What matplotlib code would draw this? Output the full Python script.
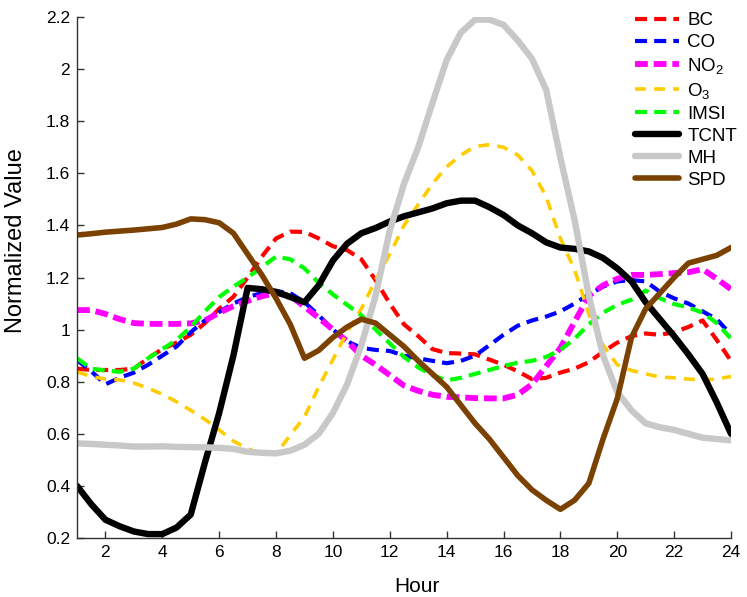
import numpy as np
import matplotlib
matplotlib.use("Agg")
import matplotlib.pyplot as plt

plt.rcParams['font.family'] = ['Liberation Sans', 'DejaVu Sans']
plt.rcParams['mathtext.fontset'] = 'custom'
plt.rcParams['mathtext.rm'] = 'Liberation Sans'
plt.rcParams['mathtext.it'] = 'Liberation Sans'

hours = [1, 1.5, 2, 2.5, 3, 3.5, 4, 4.5, 5, 5.5, 6, 6.5, 7, 7.5, 8, 8.5, 9, 9.5,
         10, 10.5, 11, 11.5, 12, 12.5, 13, 13.5, 14, 14.5, 15, 15.5, 16, 16.5,
         17, 17.5, 18, 18.5, 19, 19.5, 20, 20.5, 21, 21.5, 22, 22.5, 23, 23.5, 24]

bc = [0.85, 0.845, 0.845, 0.845, 0.85, 0.89, 0.925, 0.95, 0.98, 1.025, 1.08, 1.126,
      1.20, 1.28, 1.35, 1.376, 1.375, 1.35, 1.32, 1.305, 1.27, 1.19, 1.10, 1.02,
      0.975, 0.925, 0.91, 0.908, 0.905, 0.885, 0.865, 0.84, 0.81, 0.815, 0.835,
      0.85, 0.875, 0.915, 0.95, 0.975, 0.985, 0.98, 0.99, 1.01, 1.035, 0.96, 0.88]

co = [0.883, 0.84, 0.79, 0.815, 0.835, 0.865, 0.90, 0.935, 0.99, 1.035, 1.068, 1.10,
      1.125, 1.14, 1.148, 1.14, 1.105, 1.055, 1.0, 0.955, 0.93, 0.922, 0.918, 0.90,
      0.89, 0.88, 0.871, 0.88, 0.90, 0.94, 0.98, 1.015, 1.035, 1.05, 1.07, 1.10,
      1.135, 1.165, 1.185, 1.19, 1.185, 1.145, 1.12, 1.10, 1.07, 1.04, 0.98]

no2 = [1.075, 1.075, 1.06, 1.04, 1.025, 1.022, 1.022, 1.022, 1.024, 1.035, 1.065,
       1.09, 1.11, 1.128, 1.14, 1.13, 1.088, 1.045, 1.0, 0.955, 0.90, 0.865, 0.825,
       0.785, 0.765, 0.75, 0.742, 0.74, 0.737, 0.736, 0.736, 0.75, 0.79, 0.86, 0.93,
       1.03, 1.13, 1.17, 1.195, 1.21, 1.21, 1.213, 1.217, 1.22, 1.232, 1.195, 1.155]

o3 = [0.838, 0.82, 0.81, 0.807, 0.795, 0.775, 0.752, 0.723, 0.69, 0.655, 0.615,
      0.572, 0.543, 0.523, 0.522, 0.595, 0.665, 0.78, 0.885, 0.99, 1.08, 1.19, 1.29,
      1.40, 1.48, 1.56, 1.625, 1.67, 1.703, 1.71, 1.70, 1.67, 1.61, 1.51, 1.35, 1.23,
      1.06, 0.94, 0.865, 0.843, 0.83, 0.818, 0.815, 0.81, 0.807, 0.81, 0.82]

imsi = [0.89, 0.85, 0.843, 0.838, 0.85, 0.89, 0.925, 0.96, 1.01, 1.07, 1.125, 1.165,
        1.20, 1.24, 1.28, 1.27, 1.235, 1.18, 1.135, 1.095, 1.055, 1.0, 0.947, 0.895,
        0.855, 0.825, 0.805, 0.815, 0.83, 0.845, 0.86, 0.873, 0.88, 0.895, 0.922,
        0.965, 1.02, 1.065, 1.095, 1.115, 1.15, 1.12, 1.098, 1.085, 1.065, 1.025, 0.965]

tcnt = [0.40, 0.33, 0.27, 0.245, 0.225, 0.215, 0.215, 0.24, 0.29, 0.49, 0.68, 0.90,
        1.16, 1.155, 1.145, 1.125, 1.105, 1.17, 1.265, 1.33, 1.37, 1.39, 1.415, 1.435,
        1.45, 1.465, 1.485, 1.495, 1.495, 1.47, 1.44, 1.40, 1.37, 1.335, 1.315, 1.31,
        1.30, 1.275, 1.235, 1.185, 1.105, 1.04, 0.975, 0.905, 0.83, 0.72, 0.60]

mh = [0.563, 0.561, 0.558, 0.555, 0.551, 0.551, 0.552, 0.55, 0.549, 0.548, 0.546,
      0.542, 0.531, 0.527, 0.525, 0.535, 0.558, 0.60, 0.68, 0.79, 0.94, 1.13, 1.38,
      1.56, 1.70, 1.87, 2.035, 2.14, 2.19, 2.19, 2.17, 2.11, 2.04, 1.92, 1.66, 1.42,
      1.13, 0.90, 0.76, 0.69, 0.64, 0.625, 0.615, 0.60, 0.585, 0.58, 0.575]

spd = [1.363, 1.368, 1.374, 1.378, 1.382, 1.387, 1.392, 1.405, 1.425, 1.422, 1.41,
       1.37, 1.29, 1.21, 1.12, 1.02, 0.89, 0.92, 0.97, 1.01, 1.04, 1.025, 0.98, 0.935,
       0.88, 0.83, 0.78, 0.71, 0.64, 0.58, 0.51, 0.44, 0.385, 0.345, 0.31, 0.345, 0.41,
       0.58, 0.735, 0.97, 1.08, 1.14, 1.20, 1.255, 1.27, 1.285, 1.315]

series = [
    ("BC", bc, "#ff0000", (0, (2.9, 1.7)), 3.0),
    ("CO", co, "#0000ff", (0, (2.9, 1.7)), 3.0),
    ("NO$_2$", no2, "#ff00ff", (0, (2.2, 1.0)), 4.2),
    ("O$_3$", o3, "#ffcc00", (0, (3.0, 2.3)), 2.6),
    ("IMSI", imsi, "#00ff00", (0, (2.9, 1.7)), 3.0),
    ("TCNT", tcnt, "#000000", "-", 4.6),
    ("MH", mh, "#c8c8c8", "-", 4.6),
    ("SPD", spd, "#7a4100", "-", 4.0),
]

fig = plt.figure(figsize=(7.47, 5.97), dpi=100)
ax = fig.add_axes([77 / 747, 59 / 597, 654 / 747, 521 / 597])

for name, vals, col, ls, lw in series:
    ax.plot(hours, vals, color=col, linestyle=ls, linewidth=lw, label=name,
            solid_capstyle='round', solid_joinstyle='round', dash_capstyle='butt')

ax.set_xlim(1, 24)
ax.set_ylim(0.2, 2.2)
ax.set_xticks(np.arange(2, 25, 2))
yt = np.round(np.arange(0.2, 2.21, 0.2), 1)
ax.set_yticks(yt)
ax.set_yticklabels(["%g" % v for v in yt])
ax.tick_params(direction='in', length=5, width=1, labelsize=12.5, colors='#333333',
               labelcolor='black', pad=5)
for s in ['top', 'right']:
    ax.spines[s].set_visible(False)
for s in ['left', 'bottom']:
    ax.spines[s].set_color('#333333')
    ax.spines[s].set_linewidth(1)

ax.set_xlabel("Hour", fontsize=15)
ax.xaxis.set_label_coords((417 - 77) / 654, (538 - 577) / 521)
ax.set_ylabel("Normalized Value", fontsize=17)
ax.yaxis.set_label_coords((27 - 77) / 654, (538 - 241) / 521)

leg = ax.legend(loc='upper left', bbox_to_anchor=(635 / 747, 585 / 597),
                bbox_transform=fig.transFigure, frameon=False, fontsize=13.5,
                handlelength=2.35, handletextpad=0.43, labelspacing=0.26,
                borderaxespad=0, borderpad=0)

fig.savefig("out.png", dpi=100)
